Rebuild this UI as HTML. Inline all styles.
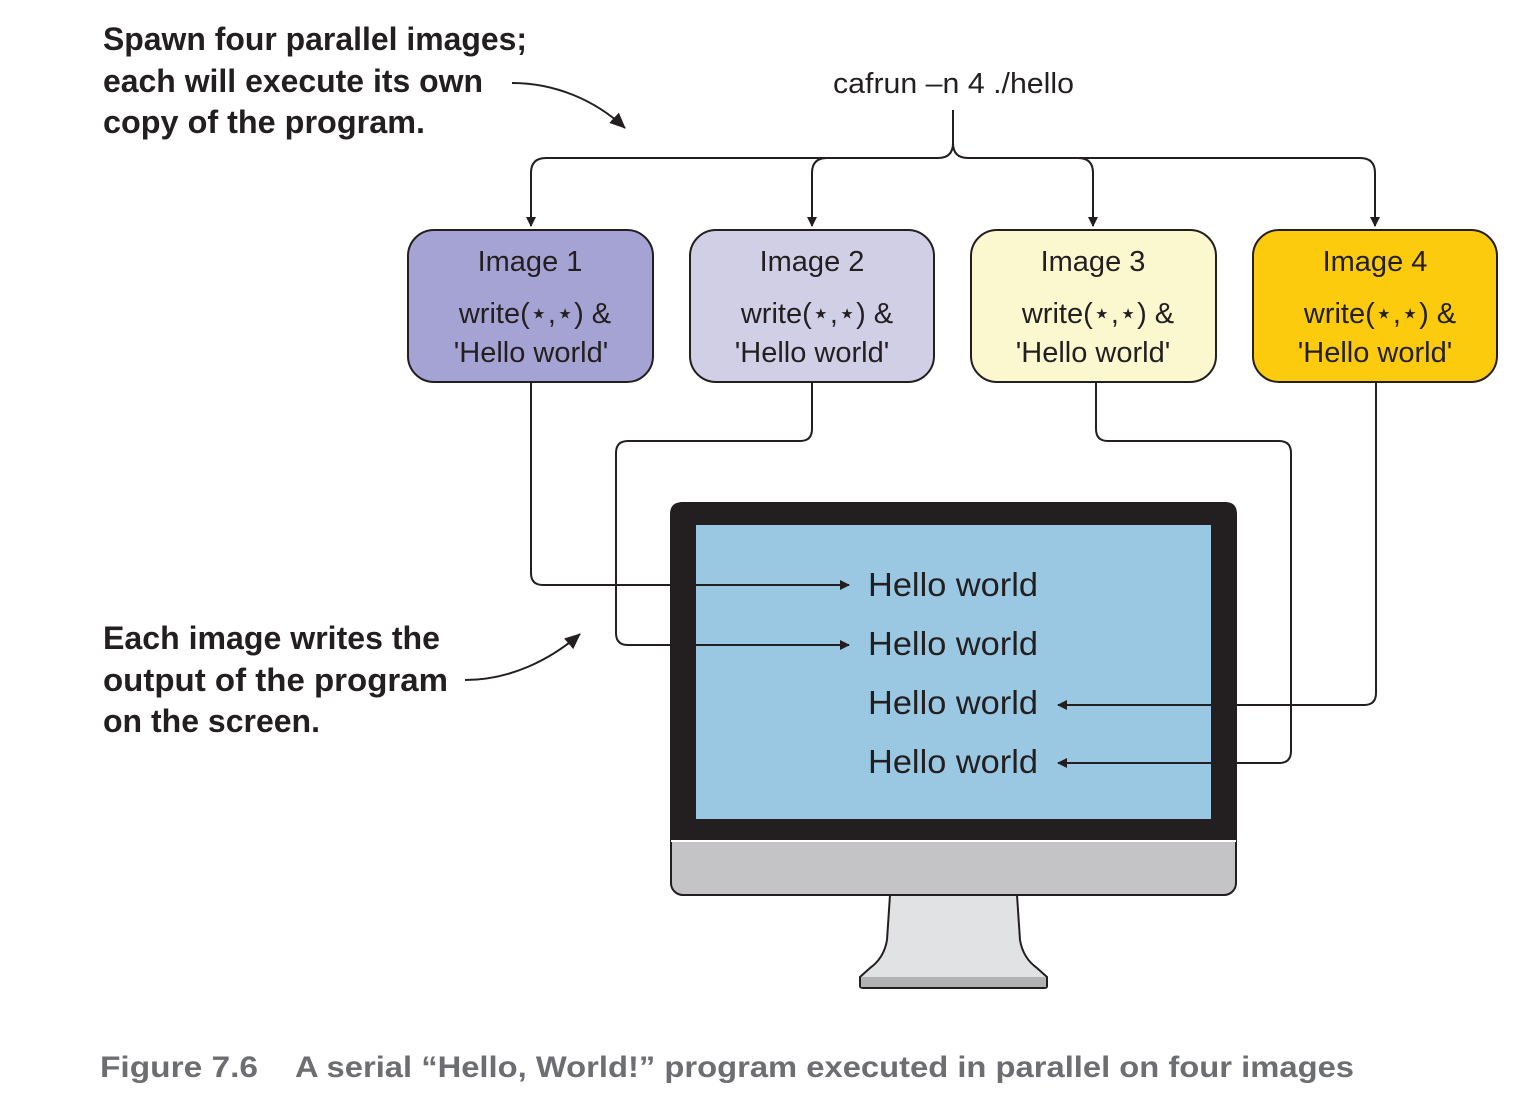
<!DOCTYPE html>
<html><head><meta charset="utf-8"><style>
html,body{margin:0;padding:0;background:#fff;}
svg{display:block;}
.ann{font-family:"Liberation Sans",sans-serif;font-weight:bold;font-size:32px;fill:#231f20;}
.bx{font-family:"Liberation Sans",sans-serif;font-size:29px;fill:#231f20;text-anchor:middle;}
.hw{font-family:"Liberation Sans",sans-serif;font-size:33px;fill:#231f20;}
.cap{font-family:"Liberation Sans",sans-serif;font-weight:bold;font-size:30px;fill:#6d6e71;}
.ln{fill:none;stroke:#231f20;stroke-width:2;}
</style></head><body>
<svg width="1532" height="1099" viewBox="0 0 1532 1099" xmlns="http://www.w3.org/2000/svg">
<defs><marker id="a" markerWidth="10" markerHeight="10" refX="9" refY="5" orient="auto" markerUnits="userSpaceOnUse"><path d="M0,0 L10,5 L0,10 Z" fill="#231f20"/></marker>
<marker id="b" markerWidth="16" markerHeight="14" refX="15" refY="7" orient="auto" markerUnits="userSpaceOnUse"><path d="M0,0 L16,7 L0,14 Z" fill="#231f20"/></marker></defs>

<text class="ann" x="103" y="50" textLength="424" lengthAdjust="spacingAndGlyphs">Spawn four parallel images;</text>
<text class="ann" x="103" y="92" textLength="380" lengthAdjust="spacingAndGlyphs">each will execute its own</text>
<text class="ann" x="103" y="133" textLength="322" lengthAdjust="spacingAndGlyphs">copy of the program.</text>
<path class="ln" d="M512,83 C555,83 595,100 625,128" marker-end="url(#b)" stroke-width="1.5"/>

<text class="ann" x="103" y="649" textLength="337" lengthAdjust="spacingAndGlyphs">Each image writes the</text>
<text class="ann" x="103" y="691" textLength="345" lengthAdjust="spacingAndGlyphs">output of the program</text>
<text class="ann" x="103" y="732" textLength="217" lengthAdjust="spacingAndGlyphs">on the screen.</text>
<path class="ln" d="M465,680 C510,680 550,660 580,634" marker-end="url(#b)" stroke-width="1.5"/>

<text x="833" y="93" font-family="Liberation Sans,sans-serif" font-size="29" fill="#231f20" textLength="241" lengthAdjust="spacingAndGlyphs">cafrun –n 4 ./hello</text>

<path class="ln" d="M953,110 V143 Q953,158 938,158 H546 Q531,158 531,173 V226" marker-end="url(#a)"/>
<path class="ln" d="M953,143 Q953,158 968,158 H1360 Q1375,158 1375,173 V226" marker-end="url(#a)"/>
<path class="ln" d="M827,158 Q812,158 812,173 V226" marker-end="url(#a)"/>
<path class="ln" d="M1078,158 Q1093,158 1093,173 V226" marker-end="url(#a)"/>

<rect x="408" y="230" width="245" height="152" rx="26" fill="#a5a3d3" stroke="#231f20" stroke-width="2"/>
<rect x="690" y="230" width="244" height="152" rx="26" fill="#d0cfe6" stroke="#231f20" stroke-width="2"/>
<rect x="971" y="230" width="245" height="152" rx="26" fill="#fbf8d0" stroke="#231f20" stroke-width="2"/>
<rect x="1253" y="230" width="244" height="152" rx="26" fill="#fccb0d" stroke="#231f20" stroke-width="2"/>
<g class="bx">
<text x="530" y="271">Image 1</text><text x="535" y="323">write(⋆,⋆) &amp;</text><text x="531" y="362">'Hello world'</text>
<text x="812" y="271">Image 2</text><text x="817" y="323">write(⋆,⋆) &amp;</text><text x="812" y="362">'Hello world'</text>
<text x="1093" y="271">Image 3</text><text x="1098" y="323">write(⋆,⋆) &amp;</text><text x="1093" y="362">'Hello world'</text>
<text x="1375" y="271">Image 4</text><text x="1380" y="323">write(⋆,⋆) &amp;</text><text x="1375" y="362">'Hello world'</text>
</g>

<rect x="671" y="503" width="565" height="392" rx="12" fill="#c4c4c6" stroke="#231f20" stroke-width="2"/>
<path d="M683,502 H1225 Q1237,502 1237,514 V840 H670 V514 Q670,502 683,502 Z" fill="#231f20"/>
<line x1="671" y1="841" x2="1236" y2="841" stroke="#fff" stroke-width="2"/>
<rect x="696" y="525" width="515" height="294" fill="#9ac8e2"/>
<path d="M890,895 L887,940 Q884,958 870,968 L860,977 V986 Q860,988 864,988 H1044 Q1047,988 1047,986 V977 L1037,968 Q1023,958 1020,940 L1017,895 Z" fill="#e1e2e4" stroke="#231f20" stroke-width="2"/>
<rect x="861" y="977" width="185" height="10" fill="#b1b2b4"/>

<path class="ln" d="M531,382 V573 Q531,585 543,585 H849" marker-end="url(#a)"/>
<path class="ln" d="M812,382 V429 Q812,441 800,441 H628 Q616,441 616,453 V633 Q616,645 628,645 H849" marker-end="url(#a)"/>
<path class="ln" d="M1096,382 V429 Q1096,441 1108,441 H1279 Q1291,441 1291,453 V751 Q1291,763 1279,763 H1058" marker-end="url(#a)"/>
<path class="ln" d="M1376,382 V693 Q1376,705 1364,705 H1058" marker-end="url(#a)"/>

<g class="hw">
<text x="868" y="596" textLength="170" lengthAdjust="spacingAndGlyphs">Hello world</text>
<text x="868" y="655" textLength="170" lengthAdjust="spacingAndGlyphs">Hello world</text>
<text x="868" y="714" textLength="170" lengthAdjust="spacingAndGlyphs">Hello world</text>
<text x="868" y="773" textLength="170" lengthAdjust="spacingAndGlyphs">Hello world</text>
</g>

<text class="cap" x="100" y="1077" textLength="158" lengthAdjust="spacingAndGlyphs">Figure 7.6</text>
<text class="cap" x="295" y="1077" textLength="1059" lengthAdjust="spacingAndGlyphs">A serial “Hello, World!” program executed in parallel on four images</text>
</svg>
</body></html>
